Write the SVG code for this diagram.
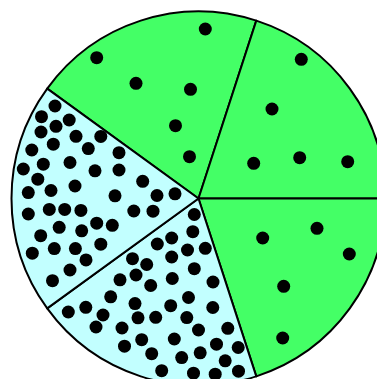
<svg xmlns="http://www.w3.org/2000/svg" width="377" height="379" viewBox="0 0 377 379">
<style>
.g{fill:#44ff66}
.c{fill:#c2ffff}
.sec{stroke:#000;stroke-width:2;stroke-linejoin:round}
.d{fill:#000}
</style>
<rect width="377" height="379" fill="#fff"/>
<g id="sector-top">
<path class="g sec" d="M198.5,198.5 L47.21,88.58 A187,187 0 0 1 256.29,20.65 Z"/>
<g class="d">
<circle cx="96.7" cy="57.7" r="6.5"/><circle cx="205.3" cy="29" r="6.5"/><circle cx="136" cy="83.3" r="6.5"/>
<circle cx="190.5" cy="89.3" r="6.5"/><circle cx="175.5" cy="125.7" r="6.5"/><circle cx="189.5" cy="156.7" r="6.5"/>
</g>
</g>
<g id="sector-upper-right">
<path class="g sec" d="M198.5,198.5 L256.29,20.65 A187,187 0 0 1 385.5,198.5 Z"/>
<g class="d">
<circle cx="301.3" cy="59.3" r="6.5"/><circle cx="272" cy="109" r="6.5"/><circle cx="253.7" cy="163.3" r="6.5"/>
<circle cx="299.7" cy="157.7" r="6.5"/><circle cx="347.7" cy="161.7" r="6.5"/>
</g>
</g>
<g id="sector-lower-right">
<path class="g sec" d="M198.5,198.5 L385.5,198.5 A187,187 0 0 1 256.29,376.35 Z"/>
<g class="d">
<circle cx="262.7" cy="238" r="6.5"/><circle cx="317" cy="228.3" r="6.5"/><circle cx="349.3" cy="254" r="6.5"/>
<circle cx="283.7" cy="286.3" r="6.5"/><circle cx="282.7" cy="338" r="6.5"/>
</g>
</g>
<g id="sector-lower-left">
<path class="c sec" d="M198.5,198.5 L256.29,376.35 A187,187 0 0 1 47.21,308.42 Z"/>
<g class="d">
<circle cx="194.3" cy="214.5" r="6.5"/><circle cx="192.8" cy="231.7" r="6.5"/><circle cx="171.7" cy="238" r="6.5"/>
<circle cx="157.3" cy="244" r="6.5"/><circle cx="187.5" cy="250" r="6.5"/><circle cx="205.3" cy="248.3" r="6.5"/>
<circle cx="171.7" cy="257" r="6.5"/><circle cx="132.5" cy="258.7" r="6.5"/><circle cx="146.7" cy="264.5" r="6.5"/>
<circle cx="194.3" cy="268.7" r="6.5"/><circle cx="136" cy="275" r="6.5"/><circle cx="120" cy="279.8" r="6.5"/>
<circle cx="172.3" cy="278.5" r="6.5"/><circle cx="213" cy="282" r="6.5"/><circle cx="150.7" cy="285.5" r="6.5"/>
<circle cx="110.7" cy="296.8" r="6.5"/><circle cx="188.5" cy="297.5" r="6.5"/><circle cx="135" cy="303.6" r="6.5"/>
<circle cx="170.7" cy="305.7" r="6.5"/><circle cx="212.8" cy="307.5" r="6.5"/><circle cx="85.8" cy="307.3" r="6.5"/>
<circle cx="68.3" cy="312" r="6.5"/><circle cx="103" cy="315" r="6.5"/><circle cx="155.7" cy="317.3" r="6.5"/>
<circle cx="138" cy="317.8" r="6.5"/><circle cx="186.8" cy="317.6" r="6.5"/><circle cx="96" cy="327" r="6.5"/>
<circle cx="122" cy="328" r="6.5"/><circle cx="198.5" cy="330" r="6.5"/><circle cx="227.8" cy="328.3" r="6.5"/>
<circle cx="141.7" cy="339.7" r="6.5"/><circle cx="174.3" cy="339" r="6.5"/><circle cx="216.5" cy="344.2" r="6.5"/>
<circle cx="238.2" cy="347.5" r="6.5"/><circle cx="124.5" cy="346.2" r="6.5"/><circle cx="151.7" cy="353.7" r="6.5"/>
<circle cx="181.7" cy="357.6" r="6.5"/><circle cx="200.2" cy="352.8" r="6.5"/><circle cx="225.2" cy="360.8" r="6.5"/>
<circle cx="161.7" cy="370.7" r="6.5"/><circle cx="193.5" cy="373.2" r="6.5"/><circle cx="215.2" cy="374.2" r="6.5"/>
<circle cx="238.5" cy="371.2" r="6.5"/>
</g>
</g>
<g id="sector-upper-left">
<path class="c sec" d="M198.5,198.5 L47.21,308.42 A187,187 0 0 1 47.21,88.58 Z"/>
<g class="d">
<circle cx="55" cy="106" r="6.5"/><circle cx="41.5" cy="116.7" r="6.5"/><circle cx="69.2" cy="120" r="6.5"/>
<circle cx="56" cy="126.3" r="6.5"/><circle cx="41" cy="132" r="6.5"/><circle cx="76" cy="136.3" r="6.5"/>
<circle cx="100.8" cy="136.4" r="6.5"/><circle cx="53.3" cy="144.2" r="6.5"/><circle cx="88.3" cy="148.6" r="6.5"/>
<circle cx="31.8" cy="150" r="6.5"/><circle cx="119" cy="152.7" r="6.5"/><circle cx="43.3" cy="164.2" r="6.5"/>
<circle cx="70" cy="162.5" r="6.5"/><circle cx="23.3" cy="169" r="6.5"/><circle cx="95" cy="170.8" r="6.5"/>
<circle cx="119" cy="170" r="6.5"/><circle cx="142.7" cy="181.3" r="6.5"/><circle cx="37.8" cy="179.2" r="6.5"/>
<circle cx="75" cy="186" r="6.5"/><circle cx="51" cy="190.5" r="6.5"/><circle cx="28.3" cy="192.6" r="6.5"/>
<circle cx="115" cy="195.8" r="6.5"/><circle cx="157" cy="195.5" r="6.5"/><circle cx="175" cy="193.8" r="6.5"/>
<circle cx="28.3" cy="214" r="6.5"/><circle cx="49.3" cy="209.4" r="6.5"/><circle cx="64.7" cy="209.4" r="6.5"/>
<circle cx="80.9" cy="210.4" r="6.5"/><circle cx="133.8" cy="211" r="6.5"/><circle cx="153" cy="211.2" r="6.5"/>
<circle cx="96.7" cy="223.2" r="6.5"/><circle cx="112.3" cy="225.3" r="6.5"/><circle cx="59.2" cy="227.3" r="6.5"/>
<circle cx="40.7" cy="235.7" r="6.5"/><circle cx="81.7" cy="230.8" r="6.5"/><circle cx="54.3" cy="248.6" r="6.5"/>
<circle cx="75.4" cy="248.6" r="6.5"/><circle cx="100.8" cy="244.2" r="6.5"/><circle cx="32.3" cy="253.2" r="6.5"/>
<circle cx="86" cy="259.9" r="6.5"/><circle cx="70" cy="270" r="6.5"/><circle cx="52.5" cy="280.7" r="6.5"/>
</g>
</g>
</svg>
